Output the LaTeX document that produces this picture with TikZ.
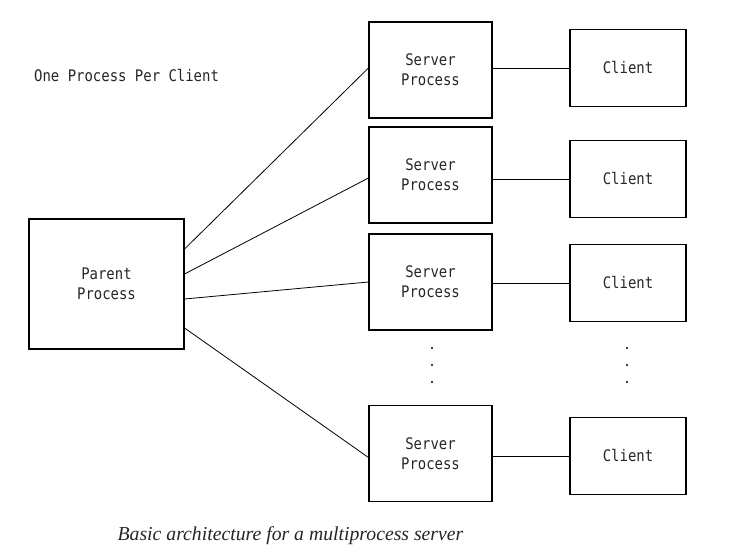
\documentclass[tikz,border=0pt]{standalone}
\usepackage{fontspec}
\setmainfont{Liberation Serif}
\newfontfamily\boxfont[FakeStretch=0.875]{DejaVu Sans Mono}
\begin{document}
\begin{tikzpicture}[x=1bp,y=-1bp,
  box/.style={draw,line width=1.1bp,align=center,inner sep=0pt,
    font=\boxfont\fontsize{16}{20}\selectfont,text=black!85},
  serverbox/.style={box,minimum width=123bp,minimum height=96bp},
  clientbox/.style={box,minimum width=116bp,minimum height=77bp},
  link/.style={line width=0.8bp}]
\useasboundingbox (0,0) rectangle (748,553);
% title
\node[anchor=west,inner sep=0pt,font=\boxfont\fontsize{16}{20}\selectfont,text=black!85] (title) at (34,76) {One Process Per Client};
% parent
\node[box,minimum width=155bp,minimum height=130bp] (parent) at (106.5,284) {Parent\\Process};
% servers
\node[serverbox] (s1) at (430.5,70) {Server\\Process};
\node[serverbox] (s2) at (430.5,175) {Server\\Process};
\node[serverbox] (s3) at (430.5,282) {Server\\Process};
\node[serverbox] (s4) at (430.5,453.5) {Server\\Process};
% clients
\node[clientbox] (c1) at (628,68) {Client};
\node[clientbox] (c2) at (628,179) {Client};
\node[clientbox] (c3) at (628,283) {Client};
\node[clientbox] (c4) at (628,456) {Client};
% parent to servers
\draw[link] ([yshift=35bp]parent.east) -- ([yshift=2bp]s1.west);
\draw[link] ([yshift=10bp]parent.east) -- ([yshift=-3bp]s2.west);
\draw[link] ([yshift=-15bp]parent.east) -- (s3.west);
\draw[link] ([yshift=-44bp]parent.east) -- ([yshift=-4bp]s4.west);
% servers to clients
\foreach \i in {1,...,4}
  \draw[link] (s\i.east |- c\i.west) -- (c\i.west);
% dots
\foreach \y in {348,365,382} {
  \fill (432,\y) circle (1.1bp);
  \fill (627,\y) circle (1.1bp);
}
% caption
\node[inner sep=0pt,font=\itshape\fontsize{19.8}{23}\selectfont,text=black!85] (caption) at (290.5,536) {Basic architecture for a multiprocess server};
\end{tikzpicture}
\end{document}
